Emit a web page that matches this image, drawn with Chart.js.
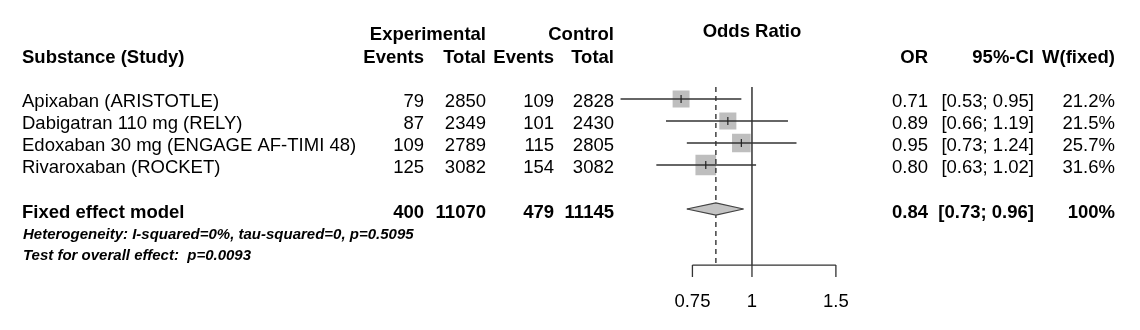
<!DOCTYPE html>
<html>
<head>
<meta charset="utf-8">
<title>Forest plot</title>
<script src="https://cdn.jsdelivr.net/npm/chart.js@4/dist/chart.umd.min.js"></script>
<style>
  html, body { margin: 0; padding: 0; background: #fff; }
  #forest { display: block; }
</style>
</head>
<body>
<canvas id="forest" width="1140" height="330"></canvas>
<script>
// Study data
const studies = ['Apixaban (ARISTOTLE)', 'Dabigatran 110 mg (RELY)', 'Edoxaban 30 mg (ENGAGE AF-TIMI 48)', 'Rivaroxaban (ROCKET)'];
const expEvents = [79, 87, 109, 125];
const expTotal = [2850, 2349, 2789, 3082];
const ctrlEvents = [109, 101, 115, 154];
const ctrlTotal = [2828, 2430, 2805, 3082];
const oddsRatio = [0.71, 0.89, 0.95, 0.80];
const ciLow = [0.53, 0.66, 0.73, 0.63];
const ciHigh = [0.95, 1.19, 1.24, 1.02];
const weights = [21.2, 21.5, 25.7, 31.6];

// Fixed effect model
const pooledLabel = 'Fixed effect model';
const pooledTotals = [400, 11070, 479, 11145];
const pooledOR = 0.84;
const pooledLow = 0.73;
const pooledHigh = 0.96;
const pooledWeight = '100%';
const heterogeneity = 'Heterogeneity: I-squared=0%, tau-squared=0, p=0.5095';
const overallTest = 'Test for overall effect:  p=0.0093';

const axisTicks = [0.75, 1, 1.5];

const FONT = '"Liberation Sans", Arial, sans-serif';
const pooledRow = 5;
const lineTop = -0.55, lineBottom = 7.55;
const diamondHalf = 0.28;

const ciDatasets = studies.map((s, i) => ({
    type: 'line',
    data: [{ x: ciLow[i], y: i }, { x: ciHigh[i], y: i }],
    borderColor: '#333',
    borderWidth: 1.3,
    pointRadius: 0,
    order: 1
}));

const datasets = [
    ...ciDatasets,
    {
        // weighted squares
        type: 'scatter',
        data: oddsRatio.map((v, i) => ({ x: v, y: i })),
        pointStyle: 'rect',
        pointRadius: weights.map(w => 2.6 * Math.sqrt(w)),
        backgroundColor: '#bebebe',
        borderWidth: 0,
        order: 3
    },
    {
        // point estimate marks
        type: 'scatter',
        data: oddsRatio.map((v, i) => ({ x: v, y: i })),
        pointStyle: 'line',
        rotation: 90,
        pointRadius: 4,
        borderColor: '#222',
        borderWidth: 1.2,
        order: 0
    },
    {
        // no effect line
        type: 'line',
        data: [{ x: 1, y: lineTop }, { x: 1, y: lineBottom }],
        borderColor: '#333',
        borderWidth: 1.5,
        pointRadius: 0,
        order: 2
    },
    {
        // pooled estimate line
        type: 'line',
        data: [{ x: pooledOR, y: lineTop }, { x: pooledOR, y: lineBottom }],
        borderColor: '#333',
        borderWidth: 1.4,
        borderDash: [5, 4],
        pointRadius: 0,
        order: 2
    },
    {
        // diamond upper half
        type: 'line',
        data: [{ x: pooledLow, y: pooledRow }, { x: pooledOR, y: pooledRow - diamondHalf }, { x: pooledHigh, y: pooledRow }],
        borderColor: '#444',
        borderWidth: 1.2,
        pointRadius: 0,
        fill: false,
        order: 1
    },
    {
        // diamond lower half
        type: 'line',
        data: [{ x: pooledLow, y: pooledRow }, { x: pooledOR, y: pooledRow + diamondHalf }, { x: pooledHigh, y: pooledRow }],
        borderColor: '#444',
        borderWidth: 1.2,
        backgroundColor: '#c4c4c4',
        pointRadius: 0,
        fill: '-1',
        order: 1
    }
];

// Table text and bottom axis
const forestText = {
    id: 'forestText',
    afterDraw(chart) {
        const c = chart.ctx;
        const xs = chart.scales.x;
        const ys = chart.scales.y;
        const cols = [424, 486, 554, 614];
        const orCol = 928, ciCol = 1034, wCol = 1115;
        const text = (t, x, y, align, font) => {
            c.font = font;
            c.textAlign = align;
            c.fillText(t, x, y);
        };
        const bold = 'bold 18.5px ' + FONT;
        const plain = '18.5px ' + FONT;
        const note = 'italic bold 15px ' + FONT;

        c.save();
        c.fillStyle = '#000';
        c.textBaseline = 'alphabetic';

        // headers
        text('Experimental', cols[1], 40, 'right', bold);
        text('Control', cols[3], 40, 'right', bold);
        text('Odds Ratio', xs.getPixelForValue(1), 37, 'center', bold);
        text('Substance (Study)', 22, 63, 'left', bold);
        ['Events', 'Total', 'Events', 'Total'].forEach((h, k) => text(h, cols[k], 63, 'right', bold));
        text('OR', orCol, 63, 'right', bold);
        text('95%-CI', ciCol, 63, 'right', bold);
        text('W(fixed)', wCol, 63, 'right', bold);

        // study rows
        studies.forEach((s, i) => {
            const y = ys.getPixelForValue(i) + 8;
            text(s, 22, y, 'left', plain);
            [expEvents[i], expTotal[i], ctrlEvents[i], ctrlTotal[i]].forEach((v, k) => text(String(v), cols[k], y, 'right', plain));
            text(oddsRatio[i].toFixed(2), orCol, y, 'right', plain);
            text('[' + ciLow[i].toFixed(2) + '; ' + ciHigh[i].toFixed(2) + ']', ciCol, y, 'right', plain);
            text(weights[i].toFixed(1) + '%', wCol, y, 'right', plain);
        });

        // pooled row
        const py = ys.getPixelForValue(pooledRow) + 9;
        text(pooledLabel, 22, py, 'left', bold);
        pooledTotals.forEach((v, k) => text(String(v), cols[k], py, 'right', bold));
        text(pooledOR.toFixed(2), orCol, py, 'right', bold);
        text('[' + pooledLow.toFixed(2) + '; ' + pooledHigh.toFixed(2) + ']', ciCol, py, 'right', bold);
        text(pooledWeight, wCol, py, 'right', bold);

        text(heterogeneity, 23, 239, 'left', note);
        text(overallTest, 23, 260, 'left', note);

        // bottom axis
        const ay = ys.getPixelForValue(lineBottom);
        const x0 = xs.getPixelForValue(axisTicks[0]);
        const x1 = xs.getPixelForValue(axisTicks[axisTicks.length - 1]);
        c.strokeStyle = '#333';
        c.lineWidth = 1.3;
        c.beginPath();
        c.moveTo(x0, ay);
        c.lineTo(x1, ay);
        axisTicks.forEach(t => {
            const tx = xs.getPixelForValue(t);
            c.moveTo(tx, ay);
            c.lineTo(tx, ay + 12);
        });
        c.stroke();
        axisTicks.forEach(t => text(String(t), xs.getPixelForValue(t), ay + 42, 'center', plain));
        c.restore();
    }
};

new Chart(document.getElementById('forest'), {
    type: 'scatter',
    data: { datasets },
    options: {
        responsive: false,
        devicePixelRatio: 1,
        animation: false,
        layout: { padding: { left: 608.5, right: 278.2, top: 33, bottom: 33 } },
        plugins: { legend: { display: false }, tooltip: { enabled: false } },
        scales: {
            x: { type: 'logarithmic', min: 0.5, max: 1.7, display: false },
            y: { type: 'linear', min: -3, max: 9, reverse: true, display: false }
        }
    },
    plugins: [forestText]
});
</script>
</body>
</html>
